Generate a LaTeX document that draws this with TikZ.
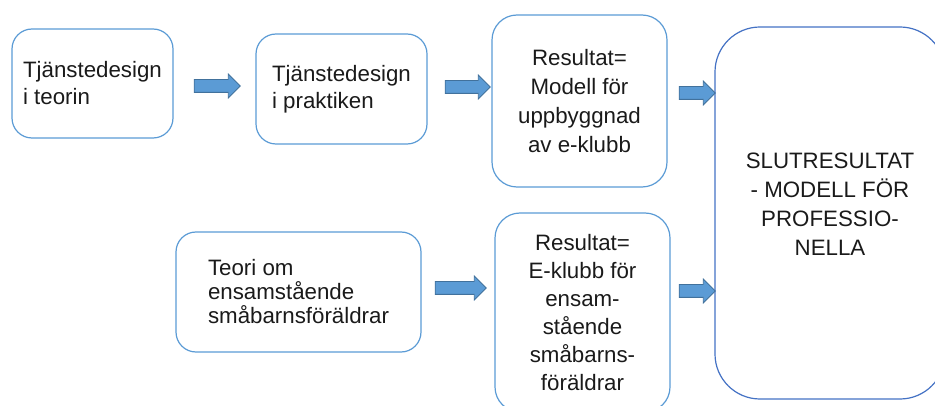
\documentclass[tikz,border=0pt]{standalone}
\usepackage{fontspec}
\setmainfont{Liberation Sans}
\usetikzlibrary{shapes.arrows}
\definecolor{ramblue}{HTML}{5B9BD5}
\definecolor{storblue}{HTML}{4472C4}
\definecolor{pilfill}{HTML}{5B9BD5}
\definecolor{pilline}{HTML}{41719C}
\definecolor{textgrey}{HTML}{1A1A1A}
\begin{document}
\begin{tikzpicture}[x=1pt,y=-1pt,
	ruta/.style={draw=ramblue, line width=1.2pt, rounded corners=20pt, inner sep=0pt,
		text=textgrey, font=\fontsize{22.3}{27}\selectfont},
	pil/.style={single arrow, draw=pilline, fill=pilfill, line width=0.8pt,
		inner sep=6pt, single arrow head extend=5.5pt, single arrow head indent=0pt,
		anchor=center}]
	\useasboundingbox (0,0) rectangle (935,406);
	% boxes, top row
	\node[ruta, align=left, minimum width=161pt, minimum height=109pt] (teori) at (92.5,83.5) {Tjänstedesign\\i teorin};
	\node[ruta, align=left, minimum width=171pt, minimum height=110pt] (praktik) at (341.5,89) {Tjänstedesign\\i praktiken};
	\node[ruta, align=center, rounded corners=25pt, minimum width=175pt, minimum height=172pt,
		font=\fontsize{22.3}{29}\selectfont] (modell) at (579.5,101) {Resultat=\\Modell för\\uppbyggnad\\av e-klubb};
	% boxes, bottom row
	\node[ruta, align=left, minimum width=245pt, minimum height=120pt,
		font=\fontsize{22.3}{24}\selectfont] (ensam) at (298.5,292) {Teori om\\ensamstående\\småbarnsföräldrar};
	\node[ruta, align=center, rounded corners=25pt, minimum width=175pt, minimum height=199pt,
		font=\fontsize{22.3}{28}\selectfont] (eklubb) at (582.5,312.5) {Resultat=\\E-klubb för\\ensam-\\stående\\småbarns-\\föräldrar};
	% final result
	\node[ruta, draw=storblue, align=center, rounded corners=45pt, minimum width=230pt, minimum height=372pt,
		font=\fontsize{22.3}{29}\selectfont] (slut) at (830,213) {SLUTRESULTAT\\- MODELL FÖR\\PROFESSIO-\\NELLA\\[-11pt]};
	% arrows
	\node[pil, minimum height=46pt] (pil1) at (214,86) {};
	\node[pil, minimum height=45pt] (pil2) at (464.5,87) {};
	\node[pil, minimum height=36pt] (pil3) at (694,93) {};
	\node[pil, minimum height=51pt] (pil4) at (457.5,288) {};
	\node[pil, minimum height=36pt] (pil5) at (694,291) {};
\end{tikzpicture}
\end{document}
